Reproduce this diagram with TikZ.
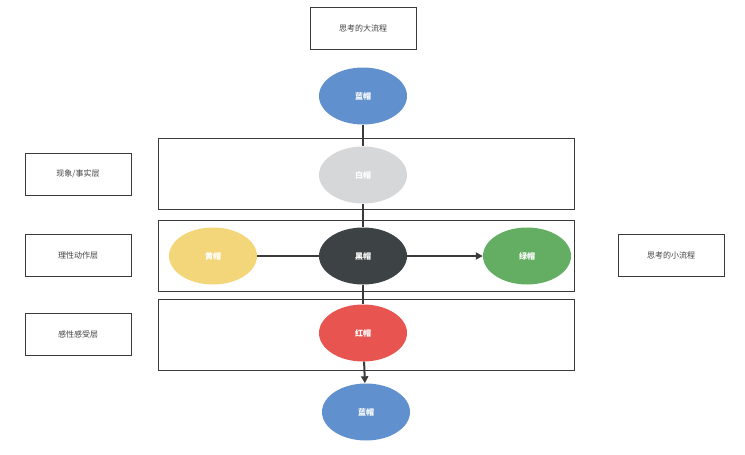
\documentclass[tikz,border=0pt]{standalone}
\usepackage{fontspec}
\setmainfont{Noto Sans CJK SC}
\usetikzlibrary{shapes.geometric,arrows.meta}
\definecolor{hatblue}{HTML}{6090CD}
\definecolor{hatwhite}{HTML}{D6D7D9}
\definecolor{hatyellow}{HTML}{F4D67A}
\definecolor{hatblack}{HTML}{3D4245}
\definecolor{hatgreen}{HTML}{63AE62}
\definecolor{hatred}{HTML}{E8544F}
\definecolor{linegray}{HTML}{3A3A3A}
\tikzset{
  hat/.style={ellipse,minimum width=88pt,minimum height=57pt,inner sep=0pt,text=white,font=\fontsize{8}{10}\selectfont\bfseries},
  labelbox/.style={draw=linegray,minimum width=106pt,minimum height=42pt,inner sep=0pt,text=black!75,font=\fontsize{8}{10}\selectfont},
  layer/.style={draw=linegray},
  link/.style={draw=linegray,line width=2pt}
}
\begin{document}
\begin{tikzpicture}[x=1pt,y=-1pt]
\useasboundingbox (0,0) rectangle (745,455);

% the three layers
\draw[layer] (158,138) rectangle (574,209);
\draw[layer] (158,220) rectangle (574,291);
\draw[layer] (158,299) rectangle (574,370);

% label boxes
\node[labelbox] (big) at (363,28) {思考的大流程};
\node[labelbox] (fact) at (78,174) {现象/事实层};
\node[labelbox] (reason) at (78,255) {理性动作层};
\node[labelbox] (feel) at (78,334) {感性感受层};
\node[labelbox] (small) at (671,255) {思考的小流程};

% the hats
\node[hat,fill=hatblue] (bluetop) at (363,96) {蓝帽};
\node[hat,fill=hatwhite] (white) at (363,175) {白帽};
\node[hat,fill=hatyellow] (yellow) at (213,256) {黄帽};
\node[hat,fill=hatblack] (black) at (363,256) {黑帽};
\node[hat,fill=hatgreen] (green) at (527,256) {绿帽};
\node[hat,fill=hatred] (red) at (363,333) {红帽};
\node[hat,fill=hatblue] (bluebot) at (366,412) {蓝帽};

% connectors
\draw[link] (bluetop) -- (white);
\draw[link] (white) -- (black);
\draw[link] (yellow) -- (black);
\draw[link,-{Triangle[length=7pt,width=7pt]}] (black) -- (green);
\draw[link] (black) -- (red);
\draw[link,-{Triangle[length=7pt,width=7pt]}] (red) -- (bluebot);
\end{tikzpicture}
\end{document}
